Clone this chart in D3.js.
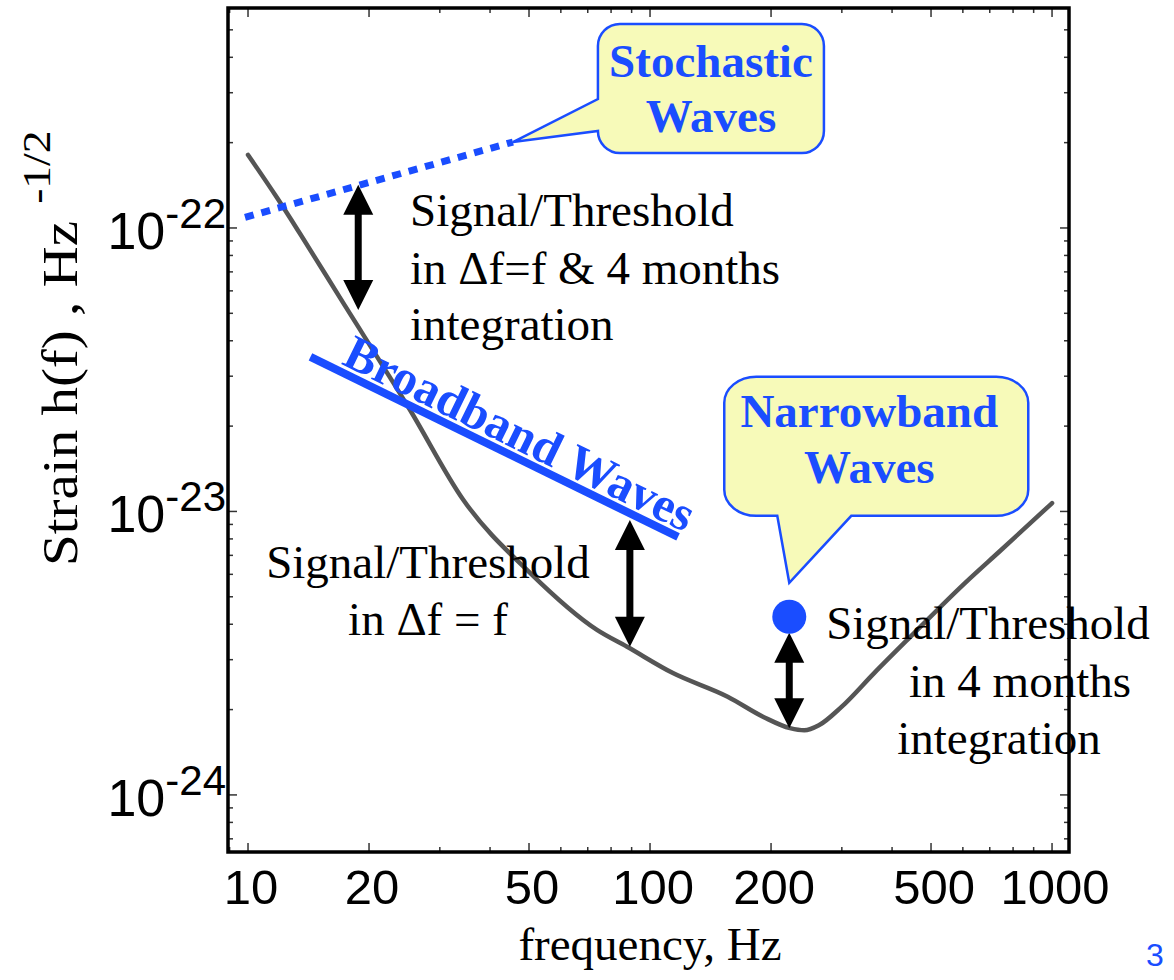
<!DOCTYPE html>
<html>
<head>
<meta charset="utf-8">
<script src="https://cdn.jsdelivr.net/npm/d3@7"></script>
<style>
  html, body { margin: 0; padding: 0; background: #fff; }
  svg { display: block; }
</style>
</head>
<body>
<div id="chart"></div>
<script>
// detector sensitivity curve (Hz -> strain per sqrt Hz)
const noiseFreq = [10, 11.8, 13.5, 16.9, 25.3, 34.3, 50.3, 73.8, 87.7, 114, 156, 192, 223, 242, 263, 299, 361, 444, 608, 747, 1000]
const noiseStrain = [1.81e-22, 1.28e-22, 9.5e-23, 5.7e-23, 2.28e-23, 1.10e-23, 6.07e-24, 3.82e-24, 3.33e-24, 2.69e-24,
                     2.22e-24, 1.88e-24, 1.72e-24, 1.69e-24, 1.76e-24, 2.04e-24, 2.69e-24, 3.61e-24, 5.60e-24, 7.31e-24, 1.07e-23]

// stochastic (dotted) and broadband (solid) signal lines
const stochFreq = [9.83, 45.6]
const stochStrain = [1.09e-22, 2.01e-22]
const broadFreq = [14.3, 117.4]
const broadStrain = [3.51e-23, 8.13e-24]

// signal/threshold arrows
const arrowFreq = [18.8, 89.1, 222]
const arrowTop = [1.42e-22, 9.33e-24, 3.73e-24]
const arrowBottom = [5.14e-23, 3.33e-24, 1.72e-24]

// narrowband point
const narrowFreq = [222]
const narrowStrain = [4.25e-24]

// axes
const xTicks = [10, 20, 50, 100, 200, 500, 1000]
const yTicks = [1e-22, 1e-23, 1e-24]
const yTickExp = ['-22', '-23', '-24']

const W = 1174, H = 980
const plotL = 228, plotR = 1069, plotT = 8, plotB = 852
const blue = '#1a4dff'
const serif = '"Liberation Serif", "Times New Roman", serif'
const sans = '"Liberation Sans", Arial, sans-serif'

const x = d3.scaleLog().domain([8.917, 1102]).range([plotL, plotR])
const y = d3.scaleLog().domain([6.29e-25, 5.97e-22]).range([plotB, plotT])

const svg = d3.select('#chart').append('svg')
  .attr('width', W)
  .attr('height', H)

// ticks (inward on all four sides)
const xAll = x.ticks()
const yAll = y.ticks()
const isMajorX = v => xTicks.some(t => Math.abs(t - v) / t < 1e-6)
const isMajorY = v => yTicks.some(t => Math.abs(t - v) / t < 1e-6)

const ticks = svg.append('g').attr('stroke', '#333').attr('stroke-width', 1.5)
xAll.forEach(v => {
  const len = isMajorX(v) ? 9 : 5
  ticks.append('line').attr('x1', x(v)).attr('x2', x(v)).attr('y1', plotB).attr('y2', plotB - len)
  ticks.append('line').attr('x1', x(v)).attr('x2', x(v)).attr('y1', plotT).attr('y2', plotT + len)
})
yAll.forEach(v => {
  const len = isMajorY(v) ? 9 : 5
  ticks.append('line').attr('y1', y(v)).attr('y2', y(v)).attr('x1', plotL).attr('x2', plotL + len)
  ticks.append('line').attr('y1', y(v)).attr('y2', y(v)).attr('x1', plotR).attr('x2', plotR - len)
})

// frame
svg.append('rect')
  .attr('x', plotL).attr('y', plotT)
  .attr('width', plotR - plotL).attr('height', plotB - plotT)
  .attr('fill', 'none').attr('stroke', '#000').attr('stroke-width', 3.5)

// x tick labels
svg.append('g').selectAll('text')
  .data(xTicks).enter()
  .append('text')
  .attr('x', d => x(d) + 3)
  .attr('y', 904)
  .attr('text-anchor', 'middle')
  .style('font-family', sans).style('font-size', '49px')
  .text(d => d)

// y tick labels: 10 with superscript exponent
const yLab = svg.append('g').selectAll('text')
  .data(yTicks).enter()
  .append('text')
  .attr('x', 226)
  .attr('y', d => y(d) + 21)
  .attr('text-anchor', 'end')
  .style('font-family', sans).style('font-size', '52px')
yLab.append('tspan').text('10')
yLab.append('tspan').attr('dy', -21).style('font-size', '42px').text((d, i) => yTickExp[i])

// axis titles
svg.append('text')
  .attr('x', 650).attr('y', 960)
  .attr('text-anchor', 'middle')
  .style('font-family', serif).style('font-size', '47px')
  .text('frequency, Hz')

const yTitle = svg.append('text')
  .attr('transform', 'translate(77, 566) rotate(-90) scale(1.14, 1)')
  .style('font-family', serif).style('font-size', '50px')
yTitle.append('tspan').text('Strain h(f) , Hz')
yTitle.append('tspan').attr('dx', 15).attr('dy', -27).style('font-size', '40px').text('-1/2')

// sensitivity curve
const line = d3.line()
  .x(d => x(d[0]))
  .y(d => y(d[1]))
  .curve(d3.curveMonotoneX)

svg.append('path')
  .attr('d', line(d3.zip(noiseFreq, noiseStrain)))
  .attr('fill', 'none')
  .attr('stroke', '#555')
  .attr('stroke-width', 4.5)
  .attr('stroke-linecap', 'round')

// stochastic line (dotted)
svg.append('path')
  .attr('d', d3.line().x(d => x(d[0])).y(d => y(d[1]))(d3.zip(stochFreq, stochStrain)))
  .attr('stroke', blue).attr('stroke-width', 7)
  .attr('stroke-dasharray', '9,8')

// broadband line
const bb = d3.zip(broadFreq, broadStrain).map(d => [x(d[0]), y(d[1])])
svg.append('path')
  .attr('d', d3.line()(bb))
  .attr('stroke', blue).attr('stroke-width', 8)

const ang = Math.atan2(bb[1][1] - bb[0][1], bb[1][0] - bb[0][0])
const along = 30, off = 7
const tx0 = bb[0][0] + along * Math.cos(ang) + off * Math.sin(ang)
const ty0 = bb[0][1] + along * Math.sin(ang) - off * Math.cos(ang)
svg.append('text')
  .attr('transform', `translate(${tx0},${ty0}) rotate(${ang * 180 / Math.PI})`)
  .style('font-family', serif).style('font-size', '49px').style('font-weight', 'bold')
  .attr('fill', blue)
  .text('Broadband Waves')

// double arrows
const headL = 30, headW = 15
arrowFreq.forEach((f, i) => {
  const ax = x(f), y1 = y(arrowTop[i]), y2 = y(arrowBottom[i])
  const g = svg.append('g').attr('fill', '#000')
  g.append('line')
    .attr('x1', ax).attr('x2', ax)
    .attr('y1', y1 + headL - 2).attr('y2', y2 - headL + 2)
    .attr('stroke', '#000').attr('stroke-width', 7)
  g.append('path').attr('d', `M${ax},${y1} L${ax + headW},${y1 + headL} L${ax - headW},${y1 + headL} Z`)
  g.append('path').attr('d', `M${ax},${y2} L${ax + headW},${y2 - headL} L${ax - headW},${y2 - headL} Z`)
})

// narrowband dot
svg.append('g').selectAll('circle')
  .data(d3.zip(narrowFreq, narrowStrain)).enter()
  .append('circle')
  .attr('cx', d => x(d[0]))
  .attr('cy', d => y(d[1]))
  .attr('r', 17)
  .attr('fill', blue)

// callouts
const calloutStyle = sel => sel.attr('fill', '#f7fab9').attr('stroke', blue).attr('stroke-width', 2.5)

// stochastic: tail tip at the end of the dotted line
const sx = x(stochFreq[1]), sy = y(stochStrain[1])
{
  const x0 = sx + 85, x1 = sx + 311, y0 = sy - 118, y1 = sy + 11, r = 22
  const ta = sy - 43, tb = sy - 11
  svg.append('path')
    .attr('d', `M${x0 + r},${y0} H${x1 - r} A${r},${r} 0 0 1 ${x1},${y0 + r} V${y1 - r} A${r},${r} 0 0 1 ${x1 - r},${y1}
      H${x0 + r} A${r},${r} 0 0 1 ${x0},${y1 - r} V${tb} L${sx},${sy} L${x0},${ta} V${y0 + r} A${r},${r} 0 0 1 ${x0 + r},${y0} Z`)
    .call(calloutStyle)
  const cx = (x0 + x1) / 2
  ;['Stochastic', 'Waves'].forEach((t, i) => {
    svg.append('text')
      .attr('x', cx).attr('y', y0 + 53 + i * 55)
      .attr('text-anchor', 'middle')
      .style('font-family', serif).style('font-size', '47px').style('font-weight', 'bold')
      .attr('fill', blue)
      .text(t)
  })
}

// narrowband: tail tip just above the dot
const nx = x(narrowFreq[0]), ny = y(narrowStrain[0]) - 34
{
  const x0 = nx - 65, x1 = nx + 239, y0 = ny - 206, y1 = ny - 67, rx = 32, ry = 26
  const tl = nx - 12, tr = nx + 62
  svg.append('path')
    .attr('d', `M${x0 + rx},${y0} H${x1 - rx} A${rx},${ry} 0 0 1 ${x1},${y0 + ry} V${y1 - ry} A${rx},${ry} 0 0 1 ${x1 - rx},${y1}
      H${tr} L${nx},${ny} L${tl},${y1} H${x0 + rx} A${rx},${ry} 0 0 1 ${x0},${y1 - ry} V${y0 + ry} A${rx},${ry} 0 0 1 ${x0 + rx},${y0} Z`)
    .call(calloutStyle)
  const cx = (x0 + x1) / 2 - 7
  ;['Narrowband', 'Waves'].forEach((t, i) => {
    svg.append('text')
      .attr('x', cx).attr('y', y0 + 50 + i * 56)
      .attr('text-anchor', 'middle')
      .style('font-family', serif).style('font-size', '47px').style('font-weight', 'bold')
      .attr('fill', blue)
      .text(t)
  })
}

// signal / threshold notes
const notes = [
  { anchor: 'start', lines: [[410, 226, 'Signal/Threshold'], [410, 284, 'in \u0394f=f & 4 months'], [410, 340, 'integration']] },
  { anchor: 'middle', lines: [[428, 578, 'Signal/Threshold'], [428, 635, 'in \u0394f = f']] },
  { anchor: 'middle', lines: [[988, 639, 'Signal/Threshold'], [1020, 697, 'in 4 months'], [999, 754, 'integration']] }
]
notes.forEach(n => {
  n.lines.forEach(([lx, ly, t]) => {
    svg.append('text')
      .attr('x', lx).attr('y', ly)
      .attr('text-anchor', n.anchor)
      .style('font-family', serif).style('font-size', '47px')
      .attr('fill', '#000')
      .text(t)
  })
})

// slide page number in the corner
svg.append('text')
  .attr('x', 1146).attr('y', 966)
  .style('font-family', sans).style('font-size', '32px')
  .attr('fill', blue)
  .text('3')
</script>
</body>
</html>
